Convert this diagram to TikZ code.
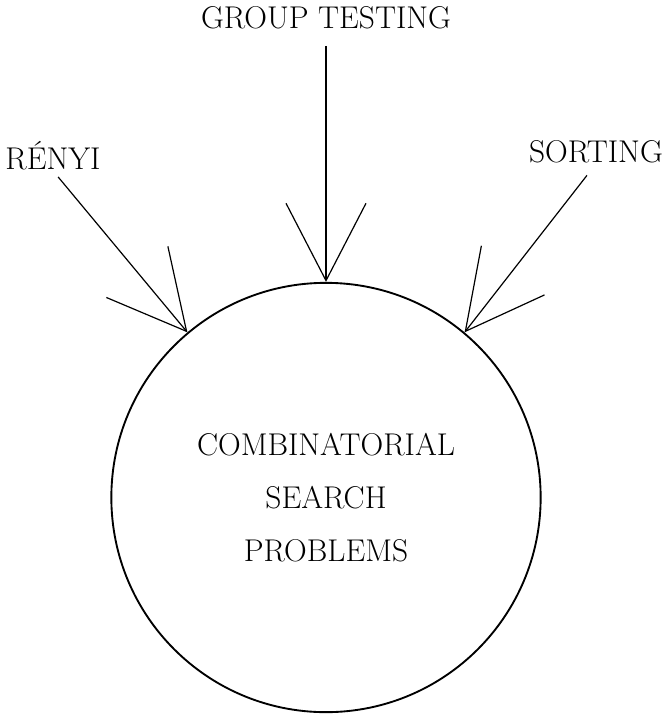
\documentclass[tikz,border=0pt]{standalone}
\usepackage{fontspec}
\usepackage{tikz}
\usetikzlibrary{arrows.meta}

\tikzset{
  label text/.style={inner sep=0.75pt, font=\fontsize{23.6}{28}\selectfont},
  feed arrow/.style={line width=0.9pt, -{Straight Barb[length=58pt,width=60pt,line width=0.9pt]}},
}

\begin{document}
\begin{tikzpicture}[x=0.75pt,y=0.75pt,yscale=-1,xscale=1]
%set diagram to 666 x 715
\useasboundingbox (0,0) rectangle (666,715);

%Shape: Circle [id:csp]
\node [circle, draw, line width=1.4pt, minimum size=322pt, inner sep=0pt,
       align=center, font=\fontsize{23.6}{40}\selectfont] (csp) at (326,497.5)
      {COMBINATORIAL\\SEARCH\\PROBLEMS};

% Text Node
\node [label text, anchor=base] (group) at (326,28) {GROUP TESTING};
% Text Node
\node [label text, anchor=base] (renyi) at (53,169) {RÉNYI};
% Text Node
\node [label text, anchor=base] (sorting) at (596,162) {SORTING};

%Straight Lines
\draw [feed arrow, shorten <=12pt] (group.south) -- (csp.90);
%Straight Lines
\draw [feed arrow, shorten <=6pt] (renyi.south) -- (csp.130);
%Straight Lines
\draw [feed arrow, shorten <=11pt] (sorting.south) -- (csp.50);

\end{tikzpicture}
\end{document}
